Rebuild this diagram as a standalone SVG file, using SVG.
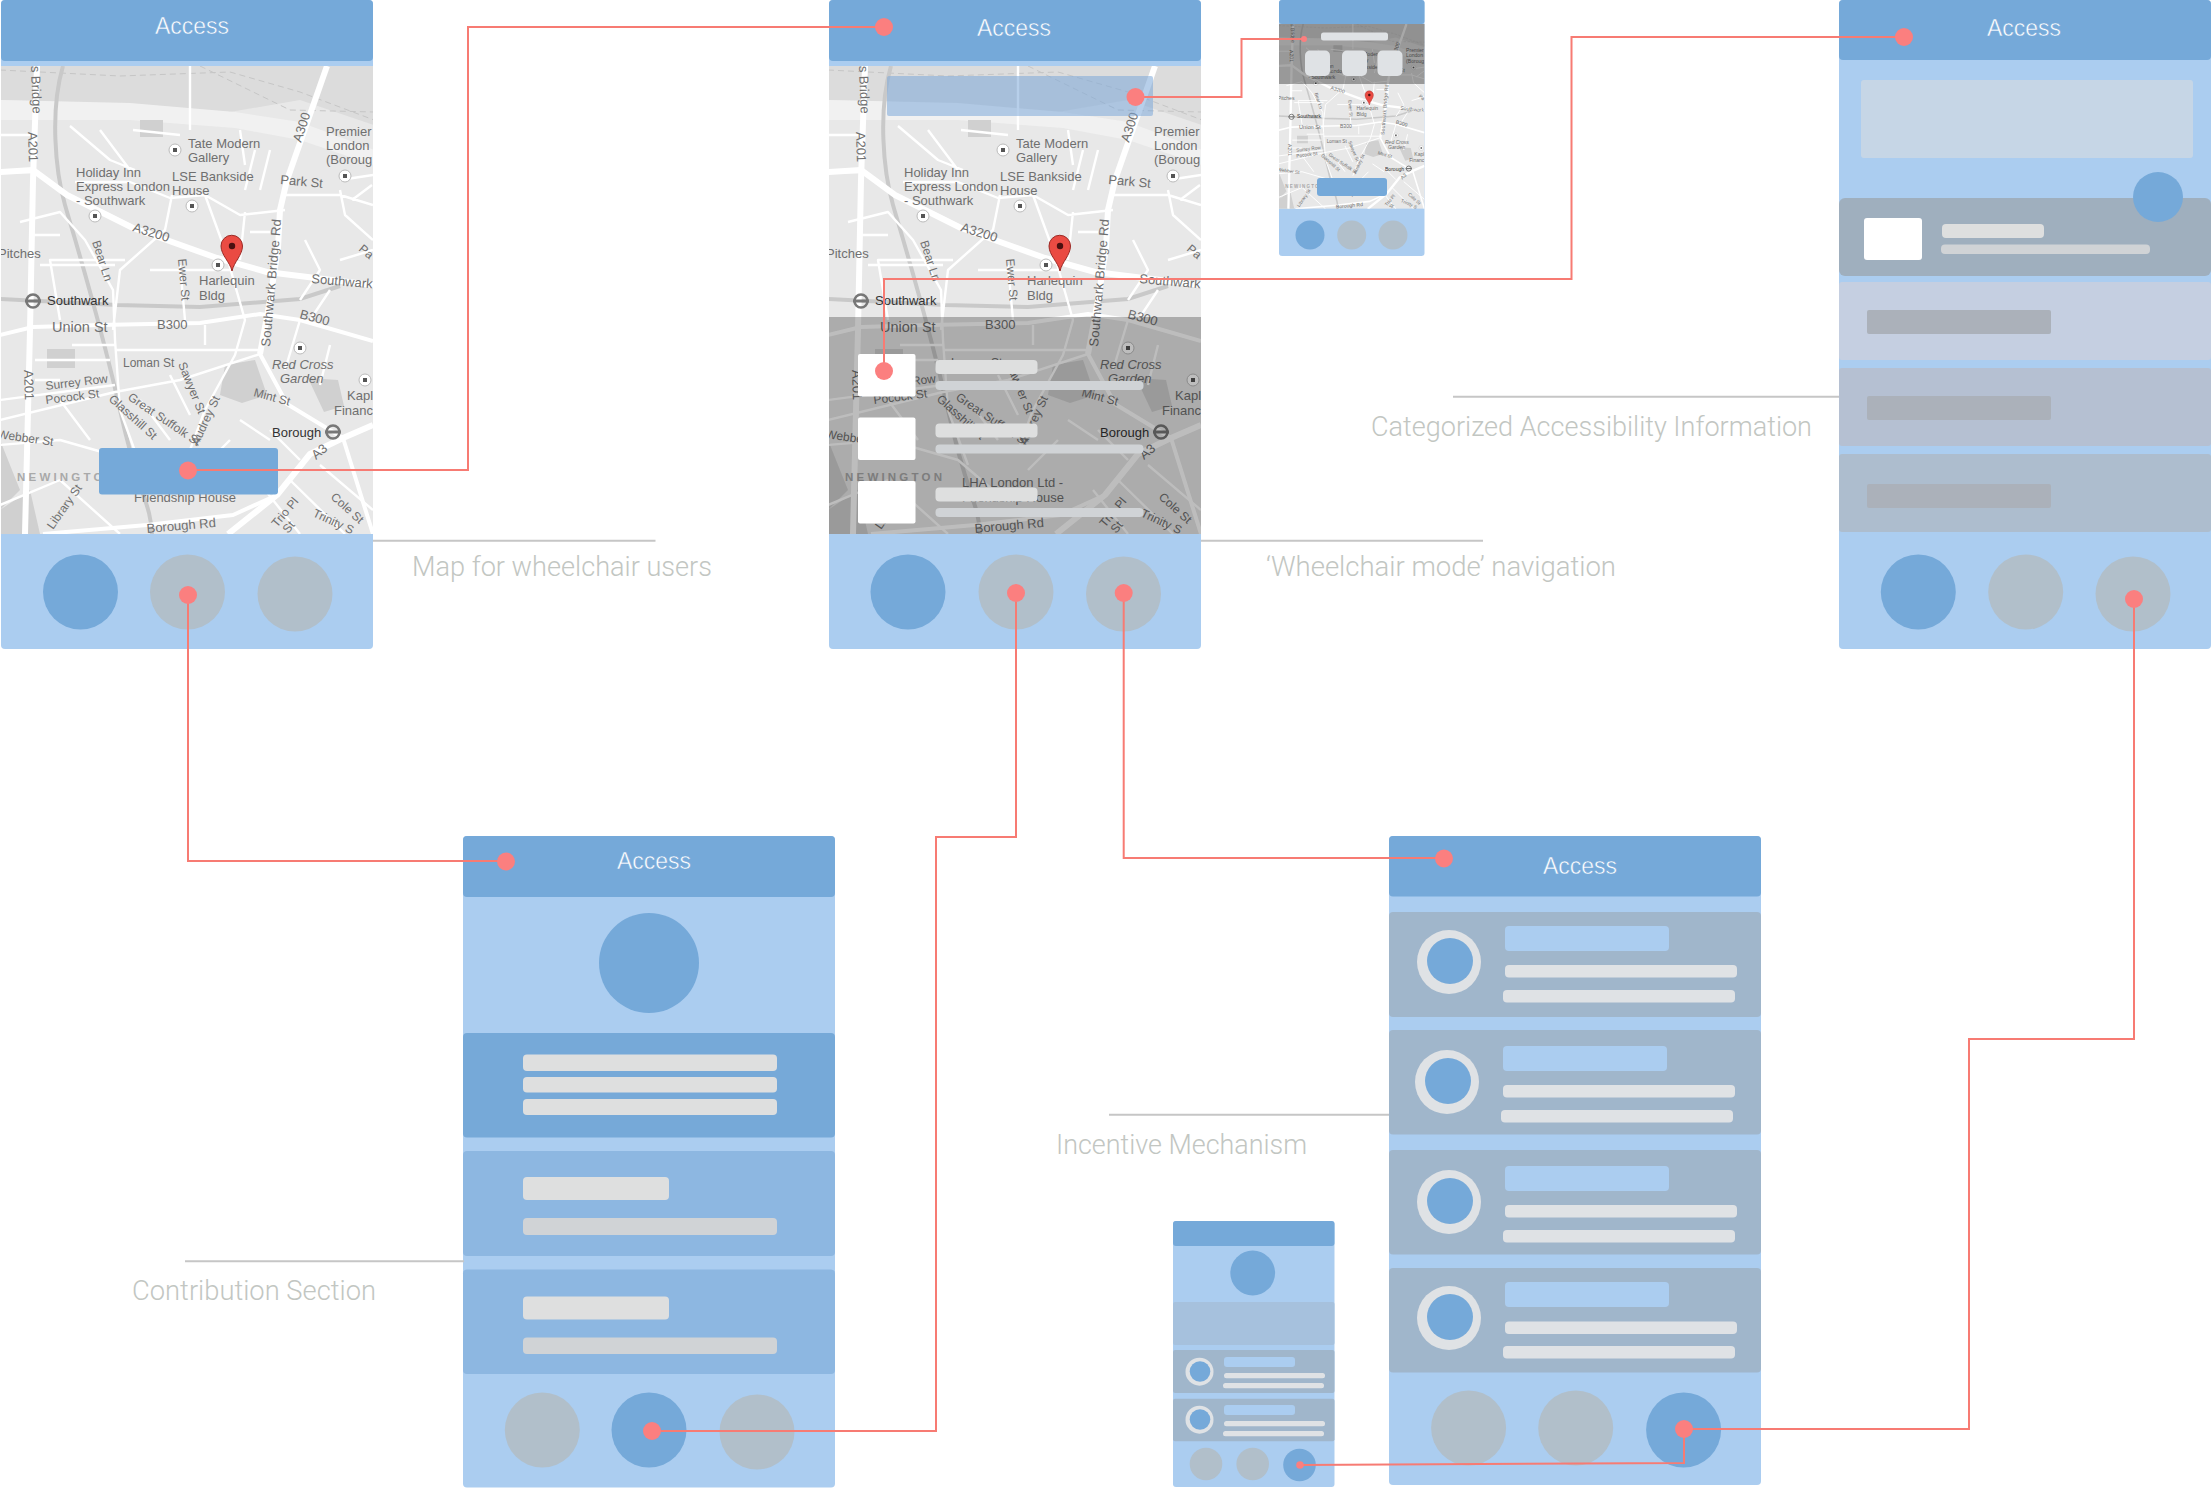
<svg xmlns="http://www.w3.org/2000/svg" width="2212" height="1488" viewBox="0 0 2212 1488">
<style>
.hd{fill:#75a9d9}
.bd{fill:#abcdf0}
.on{fill:#75a9d9}
.off{fill:#b1bfca}
.ttl{font-family:"Liberation Sans",Arial,sans-serif;font-size:24px;fill:#fff;stroke:#75a9d9;stroke-width:.5px}
.cap{font-family:Roboto,"Liberation Sans",sans-serif;font-weight:300;font-size:28px;fill:#c2c6c2}
.lead{fill:none;stroke:#c6c6c6;stroke-width:2}
.cn{fill:none;stroke:#f77b73;stroke-width:2}
.dot{fill:#fb7f7f}
.bar{fill:#dedfdf}
.bar2{fill:#d0d3d6}
.lite{fill:#dfe2e5}
.card{fill:#a0b6cb}
.ring{fill:#dfe2e5}
.white{fill:#fff}
.m{font-family:"Liberation Sans",Roboto,sans-serif;font-size:13px;fill:#6f6f6f}
.s{font-size:12px}
.md{font-family:"Liberation Sans",Roboto,sans-serif;font-size:13px;fill:#333}
.r1{fill:none;stroke:#fff;stroke-width:6;stroke-linejoin:round}
.r2{fill:none;stroke:#fff;stroke-width:4;stroke-linejoin:round}
.r3{fill:none;stroke:#fff;stroke-width:2.400;stroke-linejoin:round}
.rail{fill:none;stroke:#c9c9c9;stroke-width:4}
.dash{fill:none;stroke:#c6c6c6;stroke-width:1;stroke-dasharray:6 4}
.poi{fill:#fff;stroke:#bbb;stroke-width:1}
</style>
<defs>
<clipPath id="mapclip"><rect x="1" y="66" width="372" height="468"/></clipPath>
<g id="map" clip-path="url(#mapclip)">
<rect x="0" y="66" width="374" height="468" fill="#e8e8e8"/>
<path d="M0 66H374V125L300 100 230 112 130 104 0 100Z" fill="#dcdcdc"/>
<path d="M0 100L130 103 235 112 300 122 374 150V165L300 140 235 128 130 120 0 120Z" fill="#f1f1f1"/>
<path class="dash" d="M0 70L120 76 230 72 300 92 374 120M200 66L290 110 374 112"/>
<path d="M140 120h23v17h-23zM47 349h28v19h-28zM0 440l20 50-20 20zM225 365l30-5 12 35-25 8-22-8zM308 378l30 2 6 26-20 6zM0 510l30-20 10 44H0z" fill="#d0d0d0"/>
<path class="rail" d="M63 66C50 110 55 170 65 205S100 320 120 410 150 500 152 534"/>
<path class="rail" d="M0 299L117 305 200 307 300 299 340 286" stroke-width="5"/>
<path class="r3" d="M0 135H33M0 172H33M70 126L110 160 135 170M20 222L60 212 85 240 113 290 115 340 120 410 140 465M0 420L115 392 180 380 260 354M0 400L115 385M115 350H260M75 182H130L170 198 205 195 240 215 285 210M172 195L165 230 120 270 113 330M205 195L225 250 245 320 235 355 205 410 190 450M0 445L60 440 130 460 165 490M245 212L240 260M285 195H340L373 205M340 190L345 215 373 240M300 320L285 370M330 345L320 385M150 270H230M125 260H50L60 320M180 265L185 320M205 325V345M40 265H115M265 490L300 534M320 465L373 510M290 480L345 534M60 480L120 534M0 505L60 480M190 66V130M100 130L130 170M340 180L373 175M255 150L245 190M270 150L260 190M330 290L310 320M340 260L373 250M240 420L270 440M60 400L90 440M140 400L170 440M170 375L190 415M240 130L245 165M133 130L180 135M305 240L320 270 300 300M250 232H270M352 200L372 185M200 470L230 440M72 345H115M30 235H60M35 360H110M35 380H60M270 430L300 460"/>
<path class="r2" d="M0 335L33 327 100 325 200 323 260 314 300 320 373 341"/>
<path class="r2" d="M260 354L287 404 343 438 373 534"/>
<path class="r2" d="M43 534L147 525 233 515 277 495"/>
<path class="r1" d="M37 66L33 180 30 330 25 534" stroke-width="7"/>
<path class="r1" d="M327 66L300 143 287 180 280 210 278 248 270 300 260 354"/>
<path class="r1" d="M0 172L33 170 67 195 133 228 217 258 267 272 373 285"/>
<path class="r1" d="M228 534L277 495 310 454 343 438 373 425"/>
<g>
<text class="m" transform="translate(31 66) rotate(88)">s Bridge</text>
<text class="m" transform="translate(28 132) rotate(88)">A201</text>
<text class="m" transform="translate(24 370) rotate(88)">A201</text>
<text class="m" x="188" y="148">Tate Modern</text>
<text class="m" x="188" y="162">Gallery</text>
<text class="m" x="326" y="136">Premier</text>
<text class="m" x="326" y="150">London</text>
<text class="m" x="326" y="164">(Boroug</text>
<text class="m" transform="translate(301 143) rotate(-72)">A300</text>
<text class="m" x="76" y="177">Holiday Inn</text>
<text class="m" x="76" y="191">Express London</text>
<text class="m" x="76" y="205">- Southwark</text>
<text class="m" x="172" y="181">LSE Bankside</text>
<text class="m" x="172" y="195">House</text>
<text class="m" transform="translate(280 184) rotate(5)">Park St</text>
<text class="m" transform="translate(132 231) rotate(17)">A3200</text>
<text class="m" x="-2" y="258">Pitches</text>
<text class="m s" transform="translate(92 242) rotate(72)">Bear Ln</text>
<text class="m s" transform="translate(178 259) rotate(85)">Ewer St</text>
<text class="m" x="199" y="285">Harlequin</text>
<text class="m" x="199" y="300">Bldg</text>
<text class="m" transform="translate(270 347) rotate(-85)" textLength="128">Southwark Bridge Rd</text>
<text class="m" transform="translate(311 283) rotate(5)">Southwark</text>
<text class="md" x="47" y="305">Southwark</text>
<text class="m" x="52" y="332" style="font-size:14.500px">Union St</text>
<text class="m" x="157" y="329">B300</text>
<text class="m" transform="translate(299 318) rotate(15)">B300</text>
<text class="m" x="272" y="369" font-style="italic">Red Cross</text>
<text class="m" x="280" y="383" font-style="italic">Garden</text>
<text class="m" x="347" y="400">Kapl</text>
<text class="m" x="334" y="415">Financ</text>
<text class="m s" x="123" y="367">Loman St</text>
<text class="m s" transform="translate(178 364) rotate(68)">Sawyer St</text>
<text class="m s" transform="translate(46 390) rotate(-7)">Surrey Row</text>
<text class="m s" transform="translate(46 404) rotate(-7)">Pocock St</text>
<text class="m s" transform="translate(108 400) rotate(42)">Glasshill St</text>
<text class="m s" transform="translate(127 399) rotate(34)">Great Suffolk St</text>
<text class="m s" transform="translate(253 396) rotate(15)">Mint St</text>
<text class="m s" transform="translate(198 446) rotate(-65)">Audrey St</text>
<text class="md" x="272" y="437">Borough</text>
<text class="m" transform="translate(316 460) rotate(-40)">A3</text>
<text class="m s" transform="translate(-3 438) rotate(8)">Webber St</text>
<text class="m" x="17" y="481" style="font-size:11.500px;letter-spacing:3.200px;font-weight:700;fill:#a9a9a9">NEWINGTON</text>
<text class="m s" transform="translate(53 530) rotate(-55)">Library St</text>
<text class="m" x="134" y="487">LHA London Ltd -</text>
<text class="m" x="134" y="502">Friendship House</text>
<text class="m" transform="translate(147 533) rotate(-5)">Borough Rd</text>
<text class="m s" transform="translate(277 528) rotate(-50)">Trio Pl</text>
<text class="m s" transform="translate(288 534) rotate(-50)">St</text>
<text class="m s" transform="translate(330 498) rotate(42)">Cole St</text>
<text class="m s" transform="translate(312 516) rotate(25)">Trinity S</text>
<text class="m s" transform="translate(358 250) rotate(40)">Pa</text>
</g>
<g>
<circle class="poi" cx="175" cy="150" r="6"/><circle class="poi" cx="95" cy="216" r="6"/><circle class="poi" cx="192" cy="206" r="6"/><circle class="poi" cx="345" cy="176" r="6"/><circle class="poi" cx="218" cy="265" r="6"/><circle class="poi" cx="300" cy="348" r="6"/><circle class="poi" cx="365" cy="380" r="6"/>
<path d="M173 148h4v4h-4zM93 214h4v4h-4zM190 204h4v4h-4zM343 174h4v4h-4zM216 263h4v4h-4zM298 346h4v4h-4zM363 378h4v4h-4z" fill="#555"/>
<circle cx="33" cy="301" r="6.500" fill="none" stroke="#777" stroke-width="2.500"/><rect x="25" y="299.500" width="16" height="3" fill="#777"/>
<circle cx="333" cy="432" r="6.500" fill="none" stroke="#777" stroke-width="2.500"/><rect x="325" y="430.500" width="16" height="3" fill="#777"/>
</g>
<path d="M232 271C230 262 221 255 221 246A10.700 10.700 0 1 1 242.500 246C242.500 255 234 262 232 271Z" fill="#ea4b43" stroke="#9a2a25" stroke-width="1"/>
<circle cx="232" cy="246" r="3.200" fill="#4a1010"/>
</g>
</defs>

<g id="phone-map">
<rect class="bd" x="1" y="0" width="372" height="649" rx="4"/>
<use href="#map"/>
<rect class="hd" x="1" y="0" width="372" height="61" rx="4"/>
<text class="ttl" x="155" y="34" textLength="74" lengthAdjust="spacingAndGlyphs">Access</text>
<rect class="on" x="99" y="448" width="179" height="46.500" rx="3"/>
<circle class="on" cx="80.500" cy="592" r="37.500"/><circle class="off" cx="187.500" cy="592" r="37.500"/><circle class="off" cx="295" cy="594" r="37.500"/>
</g>

<g id="phone-wheelchair">
<rect class="bd" x="829" y="0" width="372" height="649" rx="4"/>
<use href="#map" transform="translate(828 0)"/>
<rect x="887" y="76" width="266" height="40" rx="2" fill="#7ba8d8" opacity=".55"/>
<rect x="829" y="317" width="372" height="217" fill="#000" opacity=".26"/>
<rect class="hd" x="829" y="0" width="372" height="61" rx="4"/>
<text class="ttl" x="977" y="36" textLength="74" lengthAdjust="spacingAndGlyphs">Access</text>
<rect class="white" x="858" y="354" width="57.500" height="42.500" rx="2"/><rect class="white" x="858" y="417.500" width="57.500" height="42.500" rx="2"/><rect class="white" x="858" y="481" width="57.500" height="42.500" rx="2"/>
<rect class="bar" x="935.500" y="360" width="102" height="14" rx="4"/><rect class="bar2" x="935.500" y="381" width="208" height="9" rx="4"/>
<rect class="bar" x="935.500" y="423.500" width="102" height="14" rx="4"/><rect class="bar2" x="935.500" y="444.500" width="208" height="9" rx="4"/>
<rect class="bar" x="935.500" y="487.500" width="102" height="14" rx="4"/><rect class="bar2" x="935.500" y="508" width="208" height="9" rx="4"/>
<circle class="on" cx="908" cy="592" r="37.500"/><circle class="off" cx="1016" cy="592" r="37.500"/><circle class="off" cx="1123.500" cy="594" r="37.500"/>
</g>

<g id="phone-mini-map">
<rect class="bd" x="1279" y="0" width="145.500" height="256" rx="3"/>
<use href="#map" transform="translate(1279 24) scale(.391 .395) translate(-1 -66)"/>
<rect x="1279" y="24" width="145.500" height="60" fill="#000" opacity=".34"/>
<rect class="hd" x="1279" y="0" width="145.500" height="24" rx="3"/>
<rect x="1321" y="32.400" width="67" height="8" rx="2.500" fill="#dfe2e5"/>
<rect class="lite" x="1305" y="50.500" width="25" height="25.500" rx="5"/><rect class="lite" x="1342" y="50.500" width="25" height="25.500" rx="5"/><rect class="lite" x="1377.500" y="50.500" width="25" height="25.500" rx="5"/>
<rect class="on" x="1317" y="178" width="70" height="18" rx="3"/>
<circle class="on" cx="1310" cy="235" r="14.500"/><circle class="off" cx="1351.700" cy="235" r="14.500"/><circle class="off" cx="1393" cy="235" r="14.500"/>
</g>

<g id="phone-accessibility">
<rect class="bd" x="1839" y="0" width="372" height="649" rx="4"/>
<rect class="hd" x="1839" y="0" width="372" height="60" rx="4"/>
<text class="ttl" x="1987" y="36" textLength="74" lengthAdjust="spacingAndGlyphs">Access</text>
<rect x="1861" y="80" width="332" height="78" rx="3" fill="#c6d6e6"/>
<rect x="1839" y="198" width="372" height="78" rx="6" fill="#9fafbe"/>
<circle class="on" cx="2158" cy="197" r="25"/>
<rect class="white" x="1864" y="218" width="58" height="42" rx="3"/>
<rect class="bar" x="1942" y="224" width="102" height="14" rx="4"/><rect class="bar2" x="1941" y="244.500" width="209" height="9.500" rx="4"/>
<rect x="1839" y="282" width="372" height="78" rx="3" fill="#c5cfe1"/>
<rect x="1839" y="368" width="372" height="78" rx="3" fill="#b5c0d2"/>
<rect x="1839" y="454" width="372" height="78" rx="3" fill="#adbdce"/>
<rect x="1867" y="310" width="184" height="24" rx="2" fill="#abb1ba"/><rect x="1867" y="396" width="184" height="24" rx="2" fill="#abb1ba"/><rect x="1867" y="484" width="184" height="24" rx="2" fill="#abb1ba"/>
<circle class="on" cx="1918.300" cy="592" r="37.500"/><circle class="off" cx="2025.700" cy="592" r="37.500"/><circle class="off" cx="2133" cy="594" r="37.500"/>
</g>

<g id="phone-contribution">
<rect class="bd" x="463" y="836" width="372" height="651.500" rx="4"/>
<rect class="hd" x="463" y="836" width="372" height="61" rx="4"/>
<text class="ttl" x="617" y="869" textLength="74" lengthAdjust="spacingAndGlyphs">Access</text>
<circle class="on" cx="649" cy="963" r="50"/>
<rect x="463" y="1033" width="372" height="104.500" rx="4" fill="#76a9d8"/>
<rect class="bar" x="523" y="1054.500" width="254" height="16.500" rx="4"/><rect class="bar" x="523" y="1077" width="254" height="15.500" rx="4"/><rect class="bar" x="523" y="1099" width="254" height="16" rx="4"/>
<rect x="463" y="1151" width="372" height="105" rx="4" fill="#8db7e1"/>
<rect class="bar" x="523" y="1177" width="146" height="23" rx="4"/><rect class="bar2" x="523" y="1218" width="254" height="17" rx="4"/>
<rect x="463" y="1269.500" width="372" height="104.500" rx="4" fill="#8db7e1"/>
<rect class="bar" x="523" y="1296.500" width="146" height="23" rx="4"/><rect class="bar2" x="523" y="1337.500" width="254" height="16.500" rx="4"/>
<circle class="off" cx="542.300" cy="1430" r="37.500"/><circle class="on" cx="649" cy="1430" r="37.500"/><circle class="off" cx="757" cy="1432" r="37.500"/>
</g>

<g id="phone-incentive">
<rect class="bd" x="1389" y="836" width="372" height="649" rx="4"/>
<rect class="hd" x="1389" y="836" width="372" height="60.500" rx="4"/>
<text class="ttl" x="1543" y="874" textLength="74" lengthAdjust="spacingAndGlyphs">Access</text>
<rect class="card" x="1389" y="912" width="372" height="105" rx="4"/>
<circle class="ring" cx="1449" cy="962" r="32"/><circle class="on" cx="1450" cy="961" r="23"/>
<rect class="bd" x="1505" y="926" width="164" height="25" rx="4"/><rect class="lite" x="1505" y="965" width="232" height="12.500" rx="4"/><rect class="lite" x="1503" y="990" width="232" height="12.500" rx="4"/>
<rect class="card" x="1389" y="1030" width="372" height="104.500" rx="4"/>
<circle class="ring" cx="1447" cy="1082" r="32"/><circle class="on" cx="1448" cy="1081" r="23"/>
<rect class="bd" x="1503" y="1046" width="164" height="25" rx="4"/><rect class="lite" x="1503" y="1085" width="232" height="12.500" rx="4"/><rect class="lite" x="1501" y="1110" width="232" height="12.500" rx="4"/>
<rect class="card" x="1389" y="1150" width="372" height="104.500" rx="4"/>
<circle class="ring" cx="1449" cy="1202" r="32"/><circle class="on" cx="1450" cy="1201" r="23"/>
<rect class="bd" x="1505" y="1166" width="164" height="25" rx="4"/><rect class="lite" x="1505" y="1205" width="232" height="12.500" rx="4"/><rect class="lite" x="1503" y="1230" width="232" height="12.500" rx="4"/>
<rect class="card" x="1389" y="1268" width="372" height="104.500" rx="4"/>
<circle class="ring" cx="1449" cy="1318" r="32"/><circle class="on" cx="1450" cy="1317" r="23"/>
<rect class="bd" x="1505" y="1282" width="164" height="25" rx="4"/><rect class="lite" x="1505" y="1321.500" width="232" height="12.500" rx="4"/><rect class="lite" x="1503" y="1346" width="232" height="12.500" rx="4"/>
<circle class="off" cx="1468.600" cy="1428" r="37.500"/><circle class="off" cx="1575.700" cy="1428" r="37.500"/><circle class="on" cx="1683.600" cy="1430" r="37.500"/>
</g>

<g id="phone-mini-incentive">
<rect class="bd" x="1173" y="1221" width="161.500" height="266" rx="3"/>
<rect class="hd" x="1173" y="1221" width="161.500" height="25" rx="3"/>
<circle class="on" cx="1252.700" cy="1273" r="22.400"/>
<rect x="1173" y="1302" width="161.500" height="43" rx="2" fill="#a6c1dd"/>
<rect class="card" x="1173" y="1350" width="161.500" height="43" rx="2"/>
<circle class="ring" cx="1199.500" cy="1371.700" r="14"/><circle class="on" cx="1200" cy="1371.500" r="10.300"/>
<rect class="bd" x="1224" y="1357" width="71" height="10" rx="3"/><rect class="lite" x="1224" y="1373" width="101" height="5.300" rx="2.500"/><rect class="lite" x="1223" y="1383" width="101" height="5.300" rx="2.500"/>
<rect class="card" x="1173" y="1398.700" width="161.500" height="42.500" rx="2"/>
<circle class="ring" cx="1199.500" cy="1419.700" r="14"/><circle class="on" cx="1200" cy="1419.500" r="10.300"/>
<rect class="bd" x="1224" y="1405" width="71" height="10" rx="3"/><rect class="lite" x="1224" y="1421" width="101" height="5.300" rx="2.500"/><rect class="lite" x="1223" y="1431" width="101" height="5.300" rx="2.500"/>
<circle class="off" cx="1206" cy="1464" r="16.300"/><circle class="off" cx="1252.700" cy="1464" r="16.300"/><circle class="on" cx="1299.500" cy="1465" r="16.300"/>
</g>

<g id="callouts">
<path class="lead" d="M373 540.700H655.500"/>
<text class="cap" x="412" y="576" textLength="300" lengthAdjust="spacingAndGlyphs">Map for wheelchair users</text>
<path class="lead" d="M1201 540.700H1483"/>
<text class="cap" x="1266" y="576" textLength="350" lengthAdjust="spacingAndGlyphs">‘Wheelchair mode’ navigation</text>
<path class="lead" d="M1453 396.700H1839"/>
<text class="cap" x="1371" y="436" textLength="441" lengthAdjust="spacingAndGlyphs">Categorized Accessibility Information</text>
<path class="lead" d="M185 1261.300H464"/>
<text class="cap" x="132" y="1300" textLength="244" lengthAdjust="spacingAndGlyphs">Contribution Section</text>
<path class="lead" d="M1109 1114.700H1389"/>
<text class="cap" x="1056" y="1154" textLength="251" lengthAdjust="spacingAndGlyphs">Incentive Mechanism</text>
</g>

<g id="connectors">
<path class="cn" d="M188 470H468V27H884"/>
<path class="cn" d="M188 595V861H506"/>
<path class="cn" d="M1135.500 97H1241.500V39H1304"/>
<path class="cn" d="M884 371V279H1571.500V37H1904"/>
<path class="cn" d="M1016 593V837H936V1431H652"/>
<path class="cn" d="M1123.700 593V858H1444"/>
<path class="cn" d="M2134 599V1039H1969V1429H1684"/>
<path class="cn" d="M1684 1429V1463L1300 1465"/>
<circle class="dot" cx="188" cy="470.500" r="9"/>
<circle class="dot" cx="188" cy="595" r="9"/>
<circle class="dot" cx="884" cy="27" r="9"/>
<circle class="dot" cx="1135.500" cy="97" r="9"/>
<circle class="dot" cx="1304" cy="39" r="3"/>
<circle class="dot" cx="884" cy="371" r="9"/>
<circle class="dot" cx="1016" cy="593" r="9"/>
<circle class="dot" cx="1123.700" cy="593" r="9"/>
<circle class="dot" cx="1904" cy="37" r="9"/>
<circle class="dot" cx="2134" cy="599" r="9"/>
<circle class="dot" cx="506" cy="861.500" r="9"/>
<circle class="dot" cx="652" cy="1431" r="9"/>
<circle class="dot" cx="1444" cy="858.500" r="9"/>
<circle class="dot" cx="1684" cy="1429" r="9"/>
<circle class="dot" cx="1300" cy="1465" r="3.800"/>
</g>
</svg>
